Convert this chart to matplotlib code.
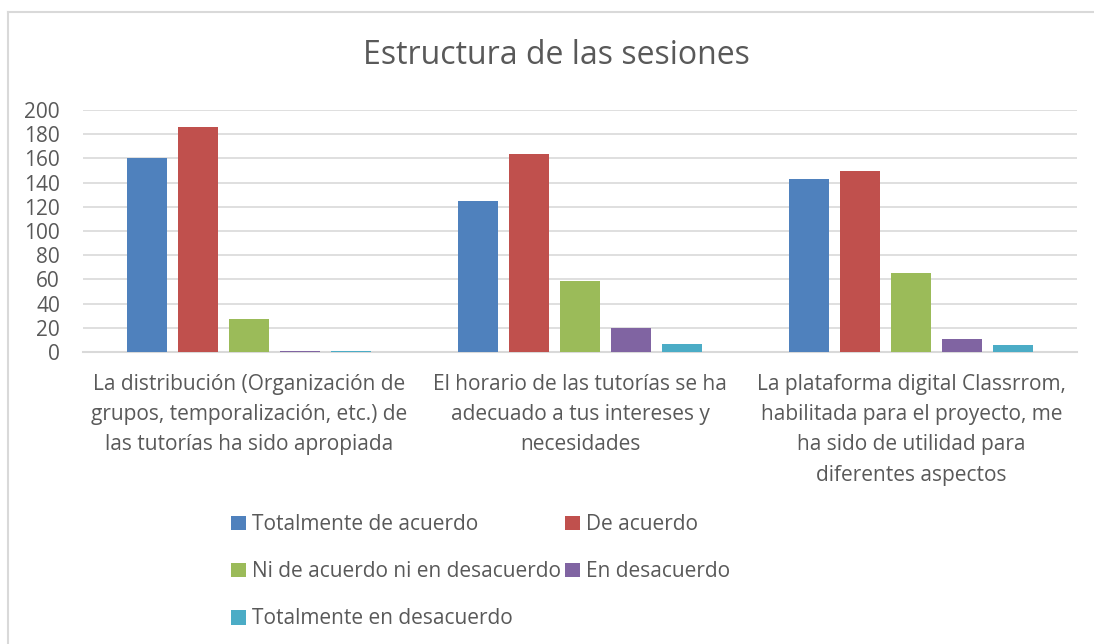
import matplotlib
matplotlib.use("Agg")
import matplotlib.pyplot as plt
import numpy as np
from matplotlib.lines import Line2D

categories = [
    "La distribución (Organización de\ngrupos, temporalización, etc.) de\nlas tutorías ha sido apropiada",
    "El horario de las tutorías se ha\nadecuado a tus intereses y\nnecesidades",
    "La plataforma digital Classrrom,\nhabilitada para el proyecto, me\nha sido de utilidad para\ndiferentes aspectos",
]
series_names = [
    "Totalmente de acuerdo",
    "De acuerdo",
    "Ni de acuerdo ni en desacuerdo",
    "En desacuerdo",
    "Totalmente en desacuerdo",
]
totalmente_de_acuerdo = [160, 125, 143]
de_acuerdo = [186, 164, 150]
ni_ni = [27, 59, 65]
en_desacuerdo = [1, 20, 11]
totalmente_en_desacuerdo = [1, 7, 6]
yticks = [0, 20, 40, 60, 80, 100, 120, 140, 160, 180, 200]

series = [totalmente_de_acuerdo, de_acuerdo, ni_ni, en_desacuerdo, totalmente_en_desacuerdo]
colors = ["#4F81BD", "#C0504D", "#9BBB59", "#8064A2", "#4BACC6"]

plt.rcParams['font.family'] = ['Open Sans', 'DejaVu Sans']
txt = "#595959"
fs = 15

fig = plt.figure(figsize=(10.94, 6.44), dpi=100)
ax = fig.add_axes([83/1094, 292/644, (1077-83)/1094, (534-292)/644])

x = np.arange(len(categories))
bw = 40/331
step = 51/331
offsets = (np.arange(5) - 2) * step
for i, (vals, c) in enumerate(zip(series, colors)):
    ax.bar(x + offsets[i], vals, width=bw, color=c, label=series_names[i], zorder=3)

ax.set_xlim(-0.5, 2.5)
ax.set_ylim(0, 200)
ax.set_yticks(yticks)
ax.yaxis.grid(True, color="#d9d9d9", linewidth=1.2, zorder=0)
for s in ["top", "right", "left"]:
    ax.spines[s].set_visible(False)
ax.spines["bottom"].set_color("#d9d9d9")
ax.spines["bottom"].set_linewidth(1.5)
ax.tick_params(axis="both", length=0, colors=txt, labelsize=fs)
ax.tick_params(axis="y", pad=16.5)
ax.set_xticks(x)
ax.set_xticklabels(categories, linespacing=1.57, color=txt, fontsize=fs, va="top")
ax.tick_params(axis="x", pad=16)

fig.text(556/1094, 1 - 56/644, "Estructura de las sesiones", ha="center", va="center",
         fontsize=23, color=txt)

handles, labels = ax.get_legend_handles_labels()
order = [0, 2, 4, 1, 3]
leg = fig.legend([handles[i] for i in order], [labels[i] for i in order], ncol=2,
                 loc="upper left", bbox_to_anchor=(221/1094, 1 - 504/644), frameon=False,
                 fontsize=fs, handlelength=0.7, handleheight=0.7, handletextpad=0.3,
                 columnspacing=0.2, labelspacing=1.25, borderpad=0)
for t in leg.get_texts():
    t.set_color(txt)

# chart border (left and top visible)
fig.add_artist(Line2D([7.5/1094, 7.5/1094], [0, 1 - 11.5/644], color="#d9d9d9", linewidth=1.5, transform=fig.transFigure))
fig.add_artist(Line2D([7.5/1094, 1], [1 - 11.5/644, 1 - 11.5/644], color="#d9d9d9", linewidth=1.5, transform=fig.transFigure))

fig.savefig("out.png", dpi=100)
